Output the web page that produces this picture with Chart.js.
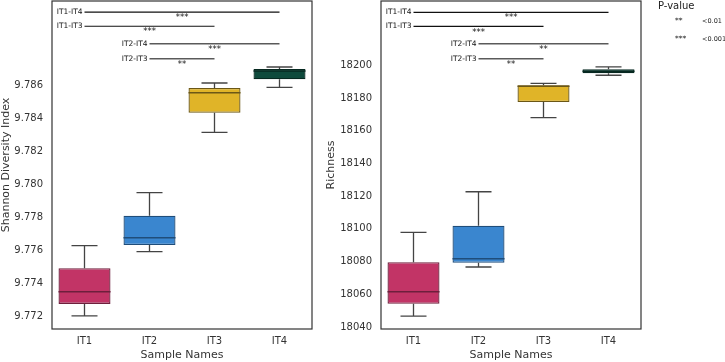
<!DOCTYPE html>
<html>
<head>
<meta charset="utf-8">
<script src="https://cdn.jsdelivr.net/npm/chart.js@4.4.1/dist/chart.umd.min.js"></script>
<style>
  body { margin: 0; background: #fff; font-family: "DejaVu Sans", sans-serif; }
  .panel { position: absolute; top: 0; height: 362px; }
  #left { left: 0; width: 325px; }
  #right { left: 325px; width: 400px; }
  .leg { position: absolute; color: #222; white-space: nowrap; }
</style>
</head>
<body>
<div class="panel" id="left"><canvas id="shannon"></canvas></div>
<div class="panel" id="right"><canvas id="richness"></canvas></div>

<div class="leg" style="left:658px; top:0px; font-size:10px;">P-value</div>
<div class="leg" style="left:675px; top:16px; font-size:7.5px;">**</div>
<div class="leg" style="left:702px; top:17px; font-size:6.5px;">&lt;0.01</div>
<div class="leg" style="left:675px; top:34px; font-size:7.5px;">***</div>
<div class="leg" style="left:702px; top:35px; font-size:6.5px;">&lt;0.001</div>

<script>
const groups = ['IT1', 'IT2', 'IT3', 'IT4'];
const fills = ['#c23466', '#3a86cf', '#e0b428', '#0e4a3c'];
const edges = ['#6e1f3c', '#1f4d7a', '#6b5716', '#062820'];

// Shannon diversity: whisker low, Q1, median, Q3, whisker high
const shannonLow = [9.77200, 9.77590, 9.78313, 9.78586];
const shannonQ1 = [9.77273, 9.77630, 9.78432, 9.78634];
const shannonMed = [9.77347, 9.77674, 9.78553, 9.78685];
const shannonQ3 = [9.77489, 9.77808, 9.78582, 9.78697];
const shannonHigh = [9.77626, 9.77948, 9.78612, 9.78709];
const shannonTicks = [9.772, 9.774, 9.776, 9.778, 9.780, 9.782, 9.784, 9.786];

// Richness
const richLow = [18046.7, 18076.7, 18168.0, 18193.9];
const richQ1 = [18054.2, 18079.3, 18177.6, 18195.2];
const richMed = [18061.6, 18081.8, 18187.2, 18196.3];
const richQ3 = [18079.6, 18101.9, 18187.8, 18197.6];
const richHigh = [18097.9, 18122.7, 18189.0, 18199.0];
const richTicks = [18040, 18060, 18080, 18100, 18120, 18140, 18160, 18180, 18200];

// significance brackets
const pairs = [[0, 3], [0, 2], [1, 3], [1, 2]];
const pairColors = ['#111', '#111', '#5a5a5a', '#5a5a5a'];
const shannonSigY = [9.79041, 9.78956, 9.78850, 9.78759];
const shannonStars = ['***', '***', '***', '**'];
const richSigY = [18232.4, 18223.8, 18213.2, 18204.0];
const richStars = ['***', '***', '**', '**'];

const boxPlugin = {
  id: 'boxes',
  afterDatasetsDraw(chart) {
    const o = chart.options.plugins.boxes;
    const ctx = chart.ctx;
    const y = chart.scales.y;
    const bars = chart.getDatasetMeta(0).data;
    ctx.save();
    bars.forEach((bar, i) => {
      const w = bar.width;
      const cx = bar.x;
      ctx.lineWidth = 1.3;
      ctx.strokeStyle = '#444';
      ctx.beginPath();
      ctx.moveTo(cx, y.getPixelForValue(o.low[i]));
      ctx.lineTo(cx, y.getPixelForValue(o.q1[i]));
      ctx.moveTo(cx, y.getPixelForValue(o.q3[i]));
      ctx.lineTo(cx, y.getPixelForValue(o.high[i]));
      ctx.moveTo(cx - w / 4, y.getPixelForValue(o.low[i]));
      ctx.lineTo(cx + w / 4, y.getPixelForValue(o.low[i]));
      ctx.moveTo(cx - w / 4, y.getPixelForValue(o.high[i]));
      ctx.lineTo(cx + w / 4, y.getPixelForValue(o.high[i]));
      ctx.stroke();
      ctx.strokeStyle = edges[i];
      ctx.lineWidth = 1.5;
      ctx.beginPath();
      ctx.moveTo(cx - w / 2, y.getPixelForValue(o.med[i]));
      ctx.lineTo(cx + w / 2, y.getPixelForValue(o.med[i]));
      ctx.stroke();
    });

    // brackets
    ctx.fillStyle = '#111';
    pairs.forEach((p, k) => {
      const x1 = bars[p[0]].x, x2 = bars[p[1]].x;
      const py = y.getPixelForValue(o.sigY[k]);
      ctx.strokeStyle = pairColors[k];
      ctx.lineWidth = k < 2 ? 1.2 : 1.5;
      ctx.beginPath();
      ctx.moveTo(x1, py);
      ctx.lineTo(x2, py);
      ctx.stroke();
      ctx.font = '7.5px "DejaVu Sans"';
      ctx.textAlign = 'right';
      ctx.textBaseline = 'middle';
      ctx.fillText(groups[p[0]] + '-' + groups[p[1]], x1 - 2, py);
      ctx.font = '8.5px "DejaVu Sans"';
      ctx.textAlign = 'center';
      ctx.fillText(o.stars[k], (x1 + x2) / 2, py + 6);
    });

    // frame
    const a = chart.chartArea;
    ctx.strokeStyle = '#333';
    ctx.lineWidth = 1.2;
    ctx.strokeRect(a.left, a.top, a.right - a.left, a.bottom - a.top);
    ctx.restore();
  }
};

function makeChart(id, q1, q3, extra, yOpts, yTitle, yWidth, padRight) {
  return new Chart(document.getElementById(id).getContext('2d'), {
    type: 'bar',
    data: {
      labels: groups,
      datasets: [{
        data: q1.map((v, i) => [v, q3[i]]),
        backgroundColor: fills,
        borderColor: edges,
        borderWidth: 1.3,
        borderSkipped: false,
        categoryPercentage: 0.8,
        barPercentage: 1.0
      }]
    },
    options: {
      responsive: true,
      maintainAspectRatio: false,
      animation: false,
      layout: { padding: { left: 0, top: 1, right: padRight, bottom: 0 } },
      plugins: {
        legend: { display: false },
        tooltip: { enabled: false },
        boxes: extra
      },
      scales: {
        x: {
          grid: { display: false, drawTicks: false, tickLength: 0 },
          border: { display: false },
          ticks: { color: '#333', font: { family: 'DejaVu Sans', size: 10 }, padding: 6 },
          title: { display: true, text: 'Sample Names', color: '#333', font: { family: 'DejaVu Sans', size: 11 }, padding: { top: 0, bottom: 0 } },
          afterFit(s) { s.height = 33; s.paddingLeft = 0; s.paddingRight = 0; }
        },
        y: Object.assign({
          grid: { display: false, drawTicks: false, tickLength: 0 },
          border: { display: false },
          title: { display: true, text: yTitle, color: '#333', font: { family: 'DejaVu Sans', size: 11 }, padding: { top: 0, bottom: 0 } },
          afterFit(s) { s.width = yWidth; s.paddingTop = 0; s.paddingBottom = 0; }
        }, yOpts)
      }
    },
    plugins: [boxPlugin]
  });
}

makeChart('shannon', shannonQ1, shannonQ3,
  { low: shannonLow, q1: shannonQ1, med: shannonMed, q3: shannonQ3, high: shannonHigh, sigY: shannonSigY, stars: shannonStars },
  {
    min: 9.77121, max: 9.79109,
    afterBuildTicks(s) { s.ticks = shannonTicks.map(v => ({ value: v })); },
    ticks: { color: '#333', font: { family: 'DejaVu Sans', size: 10 }, padding: 9, callback: v => v.toFixed(3) }
  },
  'Shannon Diversity Index', 52, 13);

makeChart('richness', richQ1, richQ3,
  { low: richLow, q1: richQ1, med: richMed, q3: richQ3, high: richHigh, sigY: richSigY, stars: richStars },
  {
    min: 18038.8, max: 18239.3,
    afterBuildTicks(s) { s.ticks = richTicks.map(v => ({ value: v })); },
    ticks: { color: '#333', font: { family: 'DejaVu Sans', size: 10 }, padding: 9, callback: v => String(v) }
  },
  'Richness', 56, 84);
</script>
</body>
</html>
